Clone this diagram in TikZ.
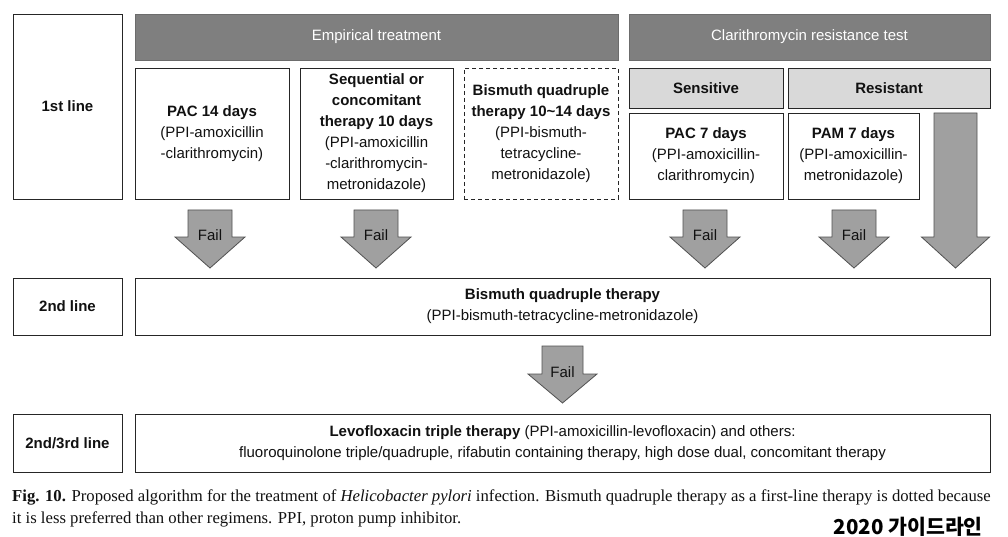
\documentclass[tikz,border=0pt]{standalone}
\usepackage{fontspec}
\setmainfont{Liberation Sans}
\newfontfamily\capfont{Liberation Serif}
\newfontfamily\krfont{Noto Sans CJK KR}
\definecolor{hdr}{HTML}{7F7F7F}
\definecolor{lite}{HTML}{D9D9D9}
\definecolor{arr}{HTML}{A0A0A0}
\definecolor{edge}{HTML}{262626}
\definecolor{ink}{HTML}{111111}
\newcommand\fatarrow[6]{% cx, top, shaft half, head half, head y, tip y
  \draw[arrstyle] (#1-#3,#2) -- (#1+#3,#2) -- (#1+#3,#5) -- (#1+#4,#5) -- (#1,#6) -- (#1-#4,#5) -- (#1-#3,#5) -- cycle;}
\begin{document}
\begin{tikzpicture}[x=1pt,y=-1pt,
  base/.style={font=\fontsize{15}{21}\selectfont, text=ink, align=center, inner sep=0pt, outer sep=0pt},
  box/.style={base, draw=edge, line width=0.9pt, fill=white},
  dbox/.style={box, dash pattern=on 4pt off 3pt},
  litebox/.style={box, fill=lite},
  hdrbar/.style={base, fill=hdr, draw=hdr!85!black, line width=0.6pt, text=white},
  arrstyle/.style={fill=arr, draw=edge!80, line width=0.8pt, line join=miter},
  failtxt/.style={base}
]
\useasboundingbox (0,0) rectangle (1008,537);
\fill[white] (0,0) rectangle (1008,537);

% left labels
\node[box, minimum width=109pt, minimum height=185pt] (l1) at (67.5,106.5) {\textbf{1st line}};
\node[box, minimum width=109pt, minimum height=57pt] (l2) at (67.5,306.5) {\textbf{2nd line}};
\node[box, minimum width=109pt, minimum height=58pt] (l3) at (67.5,443) {\textbf{2nd/3rd line}};

% header bars
\node[hdrbar, minimum width=483pt, minimum height=46pt] (emp) at (376.5,37) {Empirical treatment};
\node[hdrbar, minimum width=361pt, minimum height=46pt] (clar) at (809.5,37) {Clarithromycin resistance test};

% first-line regimens
\node[box, minimum width=154pt, minimum height=131pt] (pac14) at (212,133.5)
  {\textbf{PAC 14 days}\\(PPI-amoxicillin\\-clarithromycin)};
\node[box, minimum width=153pt, minimum height=131pt] (seq) at (376.5,133.5)
  {\textbf{Sequential or}\\\textbf{concomitant}\\\textbf{therapy 10 days}\\(PPI-amoxicillin\\-clarithromycin-\\metronidazole)};
\node[dbox, minimum width=154pt, minimum height=131pt] (bis) at (541,133.5)
  {\textbf{Bismuth quadruple}\\\textbf{therapy 10\char`~14 days}\\(PPI-bismuth-\\tetracycline-\\metronidazole)};
\node[litebox, minimum width=154pt, minimum height=40pt] (sens) at (706,88) {\textbf{Sensitive}};
\node[litebox, minimum width=202pt, minimum height=40pt] (res) at (889,88) {\textbf{Resistant}};
\node[box, minimum width=154pt, minimum height=86pt] (pac7) at (706,156)
  {\textbf{PAC 7 days}\\(PPI-amoxicillin-\\clarithromycin)};
\node[box, minimum width=131pt, minimum height=86pt] (pam7) at (853.5,156)
  {\textbf{PAM 7 days}\\(PPI-amoxicillin-\\metronidazole)};

% second line
\node[box, minimum width=855pt, minimum height=57pt] (bq) at (562.5,306.5)
  {\textbf{Bismuth quadruple therapy}\\(PPI-bismuth-tetracycline-metronidazole)};
% third line
\node[box, minimum width=855pt, minimum height=58pt] (levo) at (562.5,443)
  {\textbf{Levofloxacin triple therapy} (PPI-amoxicillin-levofloxacin) and others:\\fluoroquinolone triple/quadruple, rifabutin containing therapy, high dose dual, concomitant therapy};

% arrows
\fatarrow{210}{210}{22}{35}{237}{268}
\fatarrow{376}{210}{22}{35}{237}{268}
\fatarrow{705}{210}{22}{35}{237}{268}
\fatarrow{854}{210}{22}{35}{237}{268}
\fatarrow{955.5}{113}{21.5}{34}{237}{268}
\fatarrow{562.5}{346}{20.5}{34.5}{374}{403}
\node[failtxt] (f1) at (210,235) {Fail};
\node[failtxt] (f2) at (376,235) {Fail};
\node[failtxt] (f3) at (705,235) {Fail};
\node[failtxt] (f4) at (854,235) {Fail};
\node[failtxt] (f5) at (562.5,372) {Fail};

% caption
\node[anchor=west, inner sep=0pt, text=ink, font=\capfont\fontsize{16.7}{22}\selectfont] (cap1) at (12,497)
  {\textbf{Fig. 10.} Proposed algorithm for the treatment of \textit{Helicobacter pylori} infection. Bismuth quadruple therapy as a first-line therapy is dotted because};
\node[anchor=west, inner sep=0pt, text=ink, font=\capfont\fontsize{16.7}{22}\selectfont] (cap2) at (12,519)
  {it is less preferred than other regimens. PPI, proton pump inhibitor.};
\node[anchor=east, inner sep=0pt, text=black, font=\krfont\bfseries\fontsize{20.5}{22}\selectfont] (kr) at (983,527) {2020 가이드라인};
\end{tikzpicture}
\end{document}
